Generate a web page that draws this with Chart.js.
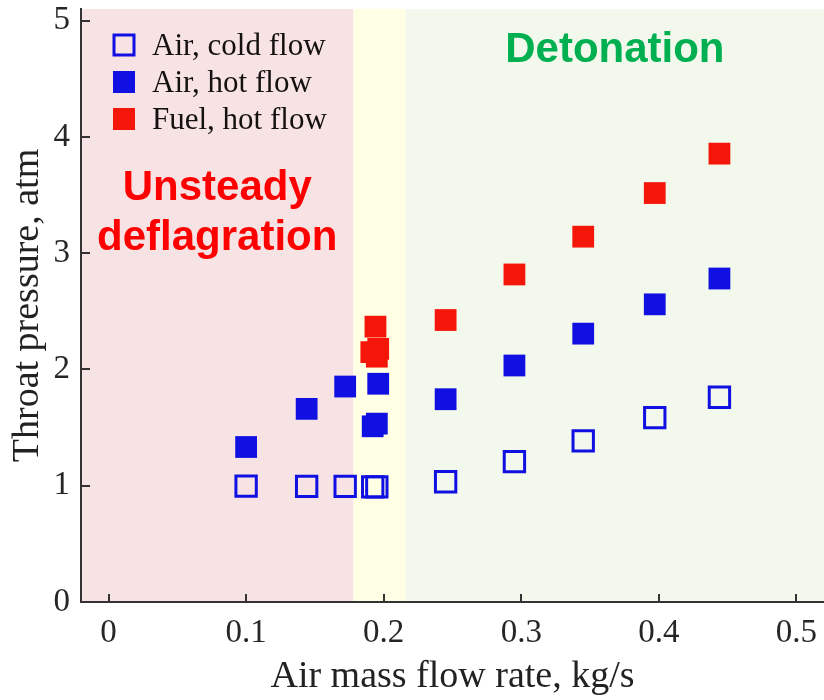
<!DOCTYPE html>
<html>
<head>
<meta charset="utf-8">
<script src="https://cdn.jsdelivr.net/npm/chart.js@4.4.1/dist/chart.umd.min.js"></script>
<style>
  html, body { margin: 0; padding: 0; background: #fff; }
  #wrap { width: 824px; height: 700px; }
</style>
</head>
<body>
<div id="wrap"><canvas id="chart" width="824" height="700"></canvas></div>
<script>
// ---- data ----
const coldX = [0.100, 0.144, 0.172, 0.192, 0.195, 0.245, 0.295, 0.345, 0.397, 0.444];
const coldY = [0.997, 0.994, 0.994, 0.990, 0.990, 1.034, 1.207, 1.386, 1.586, 1.761];

const hotAirX = [0.100, 0.144, 0.172, 0.192, 0.195, 0.196, 0.245, 0.295, 0.345, 0.397, 0.444];
const hotAirY = [1.333, 1.661, 1.853, 1.511, 1.534, 1.877, 1.744, 2.034, 2.308, 2.560, 2.782];

const fuelX = [0.191, 0.194, 0.195, 0.196, 0.245, 0.295, 0.345, 0.397, 0.444];
const fuelY = [2.149, 2.368, 2.110, 2.177, 2.425, 2.817, 3.142, 3.517, 3.856];

const seriesNames = ['Air, cold flow', 'Air, hot flow', 'Fuel, hot flow'];
const xTicks = [0, 0.1, 0.2, 0.3, 0.4, 0.5];
const yTicks = [0, 1, 2, 3, 4, 5];

// regime boundaries on the x axis
const regimeBounds = [-0.02, 0.178, 0.216, 0.52];
const regimeColors = ['#f7e3e4', '#ffffe4', '#f2f8eb'];

const BLUE = '#1010e2';
const RED = '#f5160a';
const AXIS = '#333333';
const SERIF = '"Liberation Serif", "Times New Roman", serif';
const SANS = '"Liberation Sans", Arial, sans-serif';

const toPoints = (xs, ys) => xs.map((x, i) => ({ x, y: ys[i] }));

// fixed axis sizes so the plot box lands where the reference has it
const fixSize = (w, h) => s => {
  s.paddingTop = s.paddingBottom = s.paddingLeft = s.paddingRight = 0;
  if (w) s.width = w;
  if (h) s.height = h;
};

// ---- background bands + region labels ----
const regimePlugin = {
  id: 'regimes',
  beforeDraw(chart) {
    const { ctx, chartArea: a, scales: { x } } = chart;
    ctx.save();
    for (let i = 0; i < regimeColors.length; i++) {
      const x0 = Math.max(a.left, x.getPixelForValue(regimeBounds[i]));
      const x1 = Math.min(a.right, x.getPixelForValue(regimeBounds[i + 1]));
      ctx.fillStyle = regimeColors[i];
      ctx.fillRect(x0, a.top, x1 - x0, a.bottom - a.top);
    }
    ctx.restore();
  },
  beforeDatasetsDraw(chart) {
    const { ctx, chartArea: a, scales: { x } } = chart;
    const mid = i => (Math.max(a.left, x.getPixelForValue(regimeBounds[i])) +
                      Math.min(a.right, x.getPixelForValue(regimeBounds[i + 1]))) / 2;
    ctx.save();
    ctx.font = 'bold 42px ' + SANS;
    ctx.textAlign = 'center';
    ctx.textBaseline = 'alphabetic';
    ctx.fillStyle = '#ff0000';
    ctx.fillText('Unsteady', mid(0), a.top + 191);
    ctx.fillText('deflagration', mid(0), a.top + 241);
    ctx.fillStyle = '#00b050';
    ctx.fillText('Detonation', mid(2), a.top + 53);
    ctx.restore();
  }
};

// ---- inward tick marks + legend ----
const axisPlugin = {
  id: 'axisExtras',
  afterDraw(chart) {
    const { ctx, chartArea: a, scales: { x, y } } = chart;
    ctx.save();
    ctx.strokeStyle = AXIS;
    ctx.lineWidth = 2;
    ctx.beginPath();
    xTicks.forEach(v => {
      const px = Math.round(x.getPixelForValue(v));
      ctx.moveTo(px, a.bottom);
      ctx.lineTo(px, a.bottom - 8);
    });
    yTicks.forEach(v => {
      const py = Math.round(y.getPixelForValue(v));
      ctx.moveTo(a.left, py);
      ctx.lineTo(a.left + 9, py);
    });
    ctx.stroke();

    // legend, top-left inside plot
    ctx.font = '31px ' + SERIF;
    ctx.textBaseline = 'middle';
    ctx.textAlign = 'left';
    chart.data.datasets.forEach((ds, i) => {
      const cx = a.left + 43, cy = a.top + 36 + i * 37;
      if (ds.hollow) {
        ctx.strokeStyle = ds.borderColor;
        ctx.lineWidth = 3;
        ctx.strokeRect(cx - 10, cy - 10, 20, 20);
      } else {
        ctx.fillStyle = ds.backgroundColor;
        ctx.fillRect(cx - 11, cy - 11, 22, 22);
      }
      ctx.fillStyle = '#141010';
      ctx.fillText(ds.label, cx + 28, cy + 2);
    });
    ctx.restore();
  }
};

new Chart(document.getElementById('chart'), {
  type: 'scatter',
  data: {
    datasets: [
      {
        label: seriesNames[0], hollow: true,
        data: toPoints(coldX, coldY),
        pointStyle: 'rect', pointRadius: 14.4,
        backgroundColor: 'rgba(0,0,0,0)', borderColor: BLUE, borderWidth: 3
      },
      {
        label: seriesNames[1],
        data: toPoints(hotAirX, hotAirY),
        pointStyle: 'rect', pointRadius: 15.4,
        backgroundColor: BLUE, borderWidth: 0
      },
      {
        label: seriesNames[2],
        data: toPoints(fuelX, fuelY),
        pointStyle: 'rect', pointRadius: 15.4,
        backgroundColor: RED, borderWidth: 0
      }
    ]
  },
  options: {
    responsive: false,
    animation: false,
    devicePixelRatio: 1,
    events: [],
    layout: { autoPadding: false, padding: { top: 9, right: 0, bottom: 0, left: 0 } },
    plugins: { legend: { display: false }, tooltip: { enabled: false } },
    scales: {
      x: {
        type: 'linear', min: -0.02, max: 0.52,
        afterBuildTicks: s => { s.ticks = xTicks.map(v => ({ value: v })); },
        afterFit: fixSize(0, 98),
        ticks: {
          color: '#262626', padding: 12, maxRotation: 0,
          font: { family: SERIF, size: 33 },
          callback: v => v === 0 ? '0' : v.toFixed(1)
        },
        grid: { display: false, drawTicks: false },
        border: { display: true, color: AXIS, width: 2 },
        title: {
          display: true, text: 'Air mass flow rate, kg/s', color: '#222',
          font: { family: SERIF, size: 38 }, padding: { top: 1, bottom: 0 }
        }
      },
      y: {
        type: 'linear', min: 0, max: 5.1,
        afterBuildTicks: s => { s.ticks = yTicks.map(v => ({ value: v })); },
        afterFit: fixSize(81, 0),
        ticks: {
          color: '#262626', padding: 11,
          font: { family: SERIF, size: 33 },
          callback: v => String(v)
        },
        grid: { display: false, drawTicks: false },
        border: { display: true, color: AXIS, width: 2 },
        title: {
          display: true, text: 'Throat pressure, atm', color: '#222',
          font: { family: SERIF, size: 38 }, padding: { top: 5, bottom: 3 }
        }
      }
    }
  },
  plugins: [regimePlugin, axisPlugin]
});
</script>
</body>
</html>
